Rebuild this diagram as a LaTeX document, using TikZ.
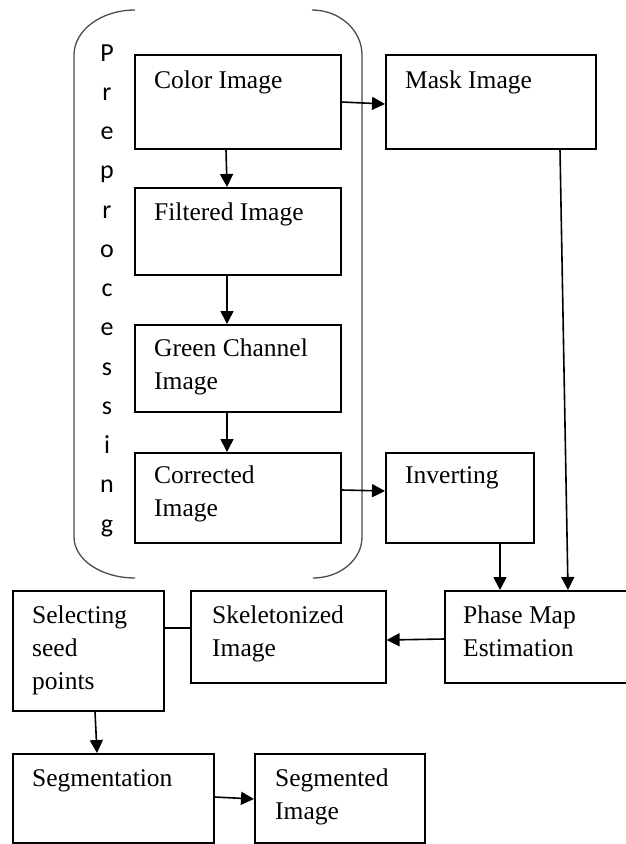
\documentclass[tikz,border=0pt]{standalone}
\usepackage{fontspec}
\setmainfont{Liberation Serif}
\newfontfamily\letterfont{Carlito}
\usetikzlibrary{arrows.meta}
\begin{document}
\begin{tikzpicture}[x=1pt,y=-1pt,
  box/.style={draw=black, line width=1.6pt, rectangle, inner sep=0pt, anchor=north west},
  lbl/.style={anchor=base west, inner sep=0pt, align=left, font=\fontsize{25.5}{33}\selectfont},
  arr/.style={draw=black, line width=1.6pt, -{Triangle[length=13pt,width=13pt]}},
  conn/.style={draw=black, line width=1.6pt},
  brk/.style={draw=black!70, line width=1.3pt},
  letter/.style={anchor=base, inner sep=0pt, font=\letterfont\fontsize{26}{26}\selectfont}]
\useasboundingbox (0,0) rectangle (626,844);

% bracket
\draw[brk] (135,10) arc[start angle=270, end angle=180, x radius=61, y radius=45]
  -- (74,537) arc[start angle=180, end angle=90, x radius=61, y radius=41];
\draw[brk] (312,10) arc[start angle=270, end angle=360, x radius=50, y radius=45]
  -- (362,537) arc[start angle=0, end angle=90, x radius=49, y radius=41];

\foreach \c [count=\i from 0] in {P,r,e,p,r,o,c,e,s,s,i,n,g}
  \node[letter] (pp\i) at (107,61+39.25*\i) {\c};

% boxes
\node[box, minimum width=206pt, minimum height=94pt] (color) at (134,54) {};
\node[box, minimum width=210pt, minimum height=94pt] (mask) at (385,54) {};
\node[box, minimum width=206pt, minimum height=87pt] (filt) at (134,187) {};
\node[box, minimum width=206pt, minimum height=87pt] (green) at (134,324) {};
\node[box, minimum width=206pt, minimum height=90pt] (corr) at (134,452) {};
\node[box, minimum width=148pt, minimum height=90pt] (inv) at (385,452) {};
\node[box, minimum width=200pt, minimum height=92pt] (phase) at (444,590) {};
\node[box, minimum width=195pt, minimum height=92pt] (skel) at (190,590) {};
\node[box, minimum width=151pt, minimum height=120pt] (sel) at (12,590) {};
\node[box, minimum width=201pt, minimum height=89pt] (seg) at (12,753) {};
\node[box, minimum width=170pt, minimum height=89pt] (segd) at (254,753) {};

% labels (anchor = baseline of the last line)
\node[lbl] (colorT) at ([shift={(20pt,-34pt)}]color.north west) {Color Image};
\node[lbl] (maskT) at ([shift={(20pt,-34pt)}]mask.north west) {Mask Image};
\node[lbl] (filtT) at ([shift={(20pt,-33pt)}]filt.north west) {Filtered Image};
\node[lbl] (greenT) at ([shift={(20pt,-65pt)}]green.north west) {Green Channel\\Image};
\node[lbl] (corrT) at ([shift={(20pt,-64pt)}]corr.north west) {Corrected\\Image};
\node[lbl] (invT) at ([shift={(20pt,-31pt)}]inv.north west) {Inverting};
\node[lbl] (phaseT) at ([shift={(19pt,-66pt)}]phase.north west) {Phase Map\\Estimation};
\node[lbl] (skelT) at ([shift={(22pt,-66pt)}]skel.north west) {Skeletonized\\Image};
\node[lbl] (selT) at ([shift={(20pt,-99pt)}]sel.north west) {Selecting\\seed\\points};
\node[lbl] (segT) at ([shift={(20pt,-33pt)}]seg.north west) {Segmentation};
\node[lbl] (segdT) at ([shift={(21pt,-66pt)}]segd.north west) {Segmented\\Image};

% connectors
\draw[arr] ([xshift=92pt]color.south west) -- ([xshift=93pt]filt.north west);
\draw[arr] ([xshift=93pt]filt.south west) -- ([xshift=93pt]green.north west);
\draw[arr] ([xshift=93pt]green.south west) -- ([xshift=93pt]corr.north west);
\draw[arr] ([yshift=-48pt]color.north east) -- ([yshift=-50pt]mask.north west);
\draw[arr] ([yshift=-38pt]corr.north east) -- ([yshift=-39pt]inv.north west);
\draw[arr] ([xshift=115pt]inv.south west) -- ([xshift=56pt]phase.north west);
\draw[arr] ([xshift=175pt]mask.south west) -- ([xshift=124pt]phase.north west);
\draw[arr] ([yshift=-49pt]phase.north west) -- ([yshift=-50pt]skel.north east);
\draw[conn] ([yshift=-38pt]sel.north east) -- ([yshift=-38pt]skel.north west);
\draw[arr] ([xshift=83pt]sel.south west) -- ([xshift=85pt]seg.north west);
\draw[arr] ([yshift=-44pt]seg.north east) -- ([yshift=-46pt]segd.north west);
\end{tikzpicture}
\end{document}
